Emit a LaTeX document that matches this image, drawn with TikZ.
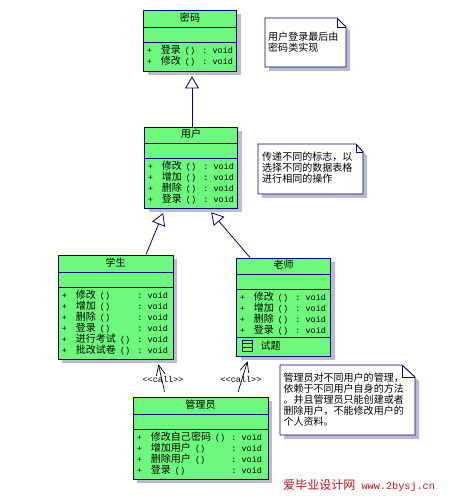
\documentclass[tikz,border=0pt]{standalone}
\usepackage{fontspec}
\setmainfont{Liberation Mono}
\newfontfamily\cjk[Scale=1.18]{Noto Sans CJK SC}
\usetikzlibrary{arrows.meta, positioning, shadows}
\definecolor{classgreen}{HTML}{6CF97C}
\definecolor{umlnavy}{HTML}{000080}
\definecolor{shadowgray}{HTML}{B9BCCF}
\definecolor{markred}{HTML}{C8101A}
\newcommand{\oprow}[1]{+ & \smash{\cjk #1}\hspace{4pt}() & :\ void\\}
\newcommand{\oplist}[2]{\begin{tabular}{@{}p{14pt}@{}p{#1}@{}l@{}}#2\end{tabular}}

\begin{document}
\begin{tikzpicture}[
    x=1pt, y=-1pt,
    classbox/.style={rectangle, draw=umlnavy, line width=0.9pt, fill=classgreen, inner sep=0pt,
                     drop shadow={shadow xshift=4pt, shadow yshift=-4pt, fill=shadowgray, opacity=1}},
    rule/.style={draw=umlnavy, line width=0.9pt},
    title/.style={font=\fontsize{8.5}{11}\selectfont\cjk, inner sep=0pt},
    ops/.style={font=\fontsize{8.5}{11}\selectfont, inner sep=0pt, anchor=north west},
    notetext/.style={font=\fontsize{8.5}{11}\selectfont\cjk, inner sep=0pt, anchor=north west, align=left},
    notebody/.style={draw=umlnavy, line width=0.9pt, fill=white},
    noteshadow/.style={fill=shadowgray},
    gen/.style={-{Triangle[open, length=12pt, width=14pt, fill=white]}, umlnavy, line width=0.8pt, shorten >=5pt},
    dep/.style={-{Straight Barb[length=10pt, width=9pt]}, black, line width=0.7pt, shorten >=5pt, shorten <=5pt},
    stereo/.style={font=\fontsize{8.5}{11}\selectfont, inner sep=0pt}
]
\useasboundingbox (0,0) rectangle (457,502);

\node[classbox, minimum width=93pt, minimum height=61pt] (mima) at (190,40.5) {};
\node[classbox, minimum width=93pt, minimum height=81pt] (yonghu) at (191,167.5) {};
\node[classbox, minimum width=115pt, minimum height=104pt] (xuesheng) at (115.5,307) {};
\node[classbox, minimum width=94pt, minimum height=98pt] (laoshi) at (283.7,307) {};
\node[classbox, minimum width=135pt, minimum height=82pt] (guanli) at (200.5,438) {};

\draw[rule] (mima.west |- 0,27) -- (mima.east |- 0,27);
\draw[rule] (mima.west |- 0,42) -- (mima.east |- 0,42);
\draw[rule] (yonghu.west |- 0,143) -- (yonghu.east |- 0,143);
\draw[rule] (yonghu.west |- 0,158) -- (yonghu.east |- 0,158);
\draw[rule] (xuesheng.west |- 0,272) -- (xuesheng.east |- 0,272);
\draw[rule] (xuesheng.west |- 0,287) -- (xuesheng.east |- 0,287);
\draw[rule] (laoshi.west |- 0,274) -- (laoshi.east |- 0,274);
\draw[rule] (laoshi.west |- 0,289) -- (laoshi.east |- 0,289);
\draw[rule] (laoshi.west |- 0,337) -- (laoshi.east |- 0,337);
\draw[rule] (guanli.west |- 0,414) -- (guanli.east |- 0,414);
\draw[rule] (guanli.west |- 0,429) -- (guanli.east |- 0,429);

\node[title] (mimatitle) at (190,18) {密码};
\node[title] (yonghutitle) at (191,134) {用户};
\node[title] (xueshengtitle) at (115.5,263) {学生};
\node[title] (laoshititle) at (283.7,265) {老师};
\node[title] (guanlititle) at (200.5,405) {管理员};

\node[ops] (mimaops) at (146.7,45.4) {\oplist{41.5pt}{\oprow{登录}\oprow{修改}}};
\node[ops] (yonghuops) at (147.7,161.4) {\oplist{41.5pt}{\oprow{修改}\oprow{增加}\oprow{删除}\oprow{登录}}};
\node[ops] (xueshengops) at (61.7,290.7) {\oplist{61.5pt}{\oprow{修改}\oprow{增加}\oprow{删除}\oprow{登录}\oprow{进行考试}\oprow{批改试卷}}};
\node[ops] (laoshiops) at (239.7,292.4) {\oplist{41.5pt}{\oprow{修改}\oprow{增加}\oprow{删除}\oprow{登录}}};
\node[ops] (guanliops) at (136.7,432.4) {\oplist{80.5pt}{\oprow{修改自己密码}\oprow{增加用户}\oprow{删除用户}\oprow{登录}}};

\node[draw=umlnavy, line width=0.7pt, inner sep=0pt, minimum width=10pt, minimum height=11pt] (shitiicon) at (247,345.5) {};
\draw[umlnavy, line width=0.7pt] (shitiicon.west |- 0,343.7) -- (shitiicon.east |- 0,343.7);
\draw[umlnavy, line width=0.7pt] (shitiicon.west |- 0,347.3) -- (shitiicon.east |- 0,347.3);
\node[title, right=8pt of shitiicon] (shiti) {试题};

\fill[noteshadow] (269,22) -- (341,22) -- (350,31) -- (350,71) -- (269,71) -- cycle;
\draw[notebody] (265,18) -- (337,18) -- (346,27) -- (346,67) -- (265,67) -- cycle;
\draw[umlnavy, line width=0.9pt] (337,18) -- (337,27) -- (346,27);
\node[notetext] (noteone) at (268,32) {用户登录最后由\\密码类实现};

\fill[noteshadow] (262,148) -- (360,148) -- (367,156) -- (367,198) -- (262,198) -- cycle;
\draw[notebody] (258,144) -- (356,144) -- (363,152) -- (363,194) -- (258,194) -- cycle;
\draw[umlnavy, line width=0.9pt] (356,144) -- (356,152) -- (363,152);
\node[notetext] (notetwo) at (262,152) {传递不同的标志，以\\选择不同的数据表格\\进行相同的操作};

\fill[noteshadow] (284,369) -- (406,369) -- (419,381) -- (419,439) -- (284,439) -- cycle;
\draw[notebody] (280,365) -- (402,365) -- (415,377) -- (415,435) -- (280,435) -- cycle;
\draw[umlnavy, line width=0.9pt] (402,365) -- (402,377) -- (415,377);
\node[notetext] (notethree) at (283.3,372.4) {管理员对不同用户的管理，\\依赖于不同用户自身的方法\\。并且管理员只能创建或者\\删除用户，不能修改用户的\\个人资料。};

\node[stereo] (callone) at (163,379) {<{}<call>{}>};
\node[stereo] (calltwo) at (241,379) {<{}<call>{}>};

\draw[gen] ([xshift=1pt]yonghu.north) -- ([xshift=2pt]mima.south);
\draw[gen] ([xshift=30.5pt]xuesheng.north) -- ([xshift=-26pt]yonghu.south);
\draw[gen] ([xshift=-33.7pt]laoshi.north) -- ([xshift=17pt]yonghu.south);
\draw[dep] ([xshift=-34.8pt]guanli.north) -- ([xshift=41.8pt]xuesheng.south);
\draw[dep] ([xshift=36.2pt]guanli.north) -- ([xshift=-34.7pt]laoshi.south);

\node[font=\fontsize{10.2}{12}\selectfont, text=markred, inner sep=0pt, anchor=west] (watermark) at (283,486) {{\cjk 爱毕业设计网} www.2bysj.cn};
\end{tikzpicture}
\end{document}
